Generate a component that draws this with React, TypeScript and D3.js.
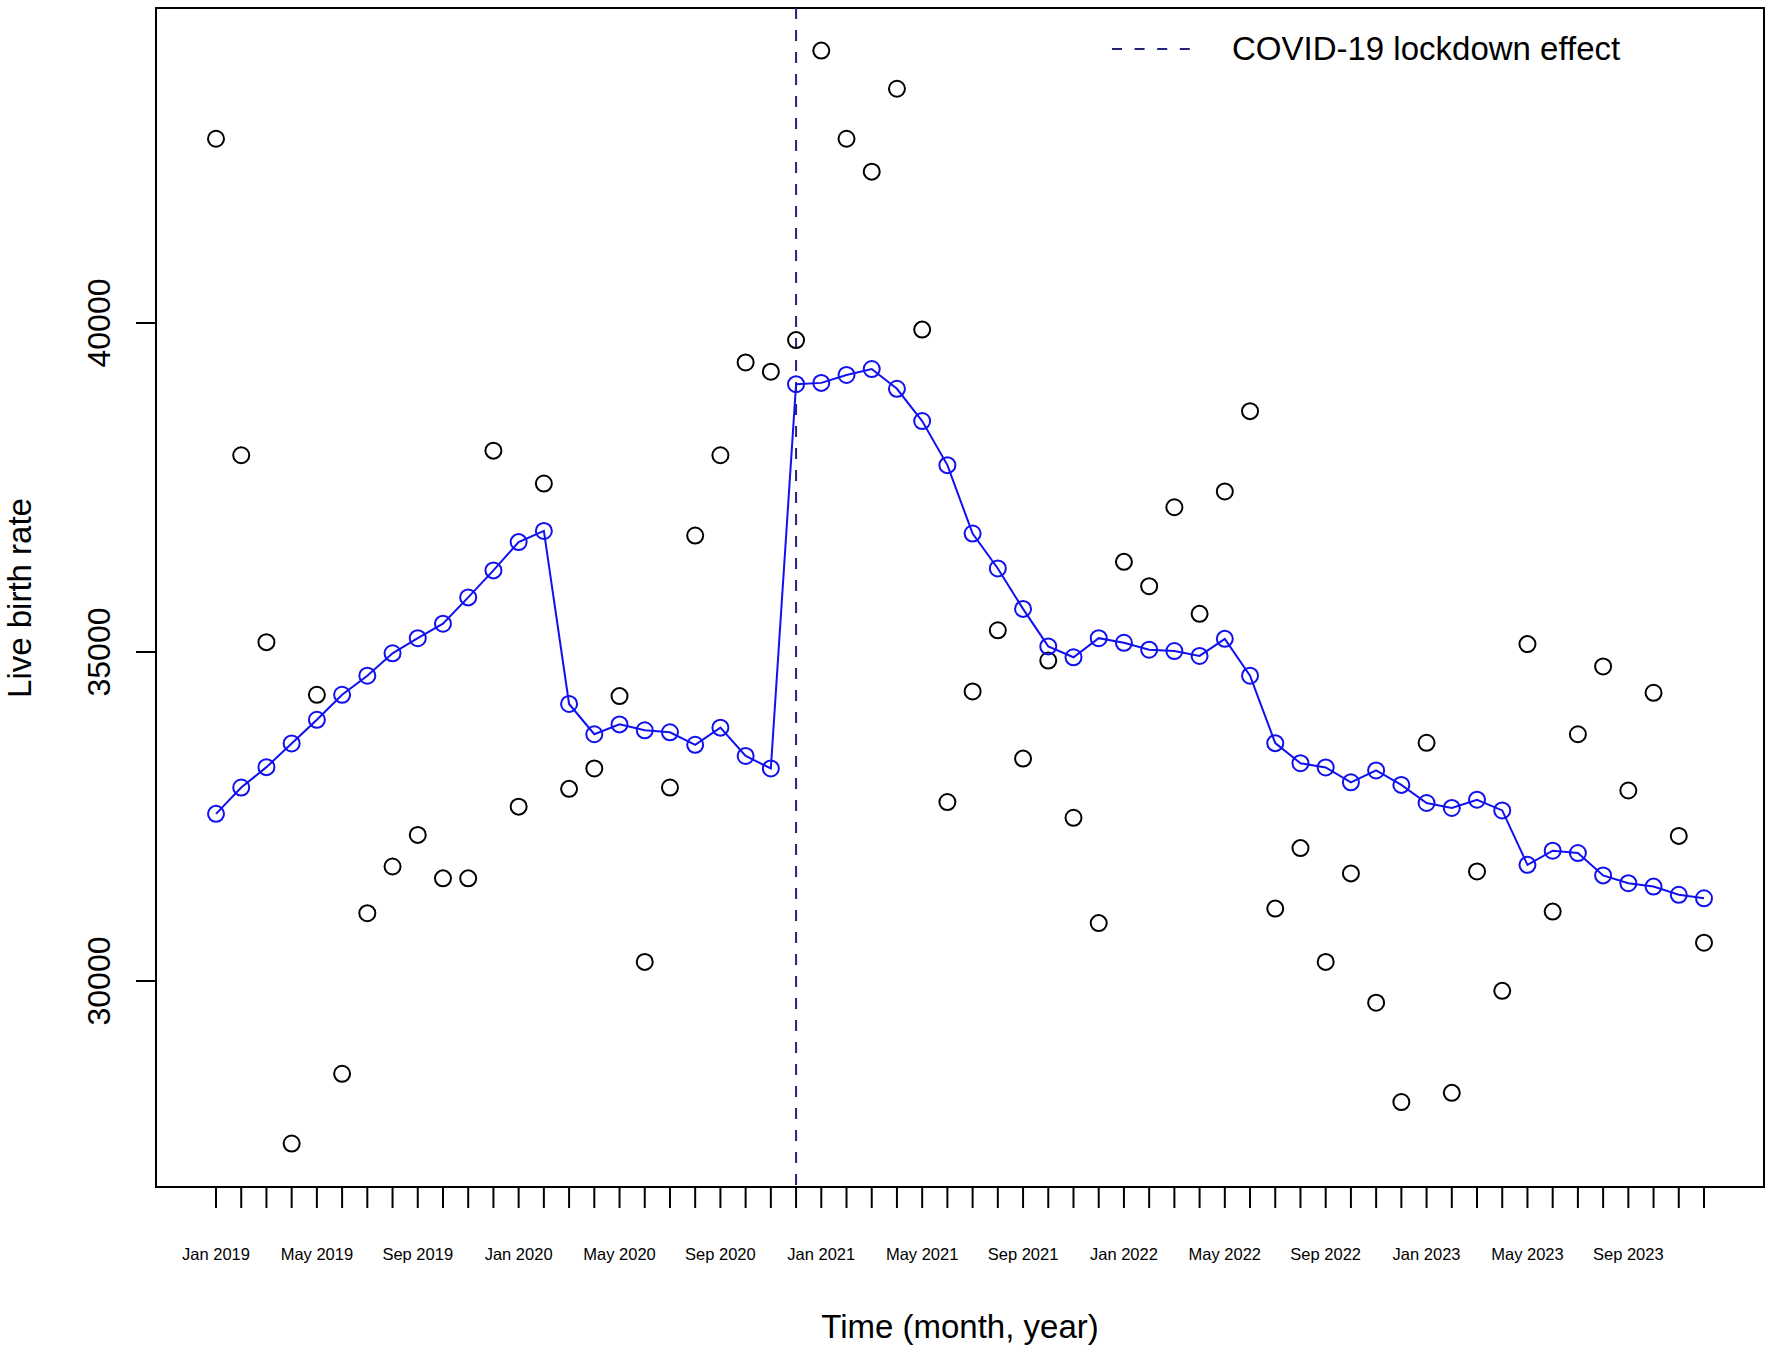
import React from 'react';
import * as d3 from 'd3';

// monthly live births, Jan 2019 .. Dec 2023
const observed: number[] = [
  42800, 37990, 35150, 27530, 34350, 28590, 31030, 31740, 32220, 31560, 31560, 38060,
  32650, 37560, 32920, 33230, 34330, 30290, 32940, 36770, 37990, 39400, 39260, 39740,
  44140, 42800, 42300, 43560, 39900, 32720, 34400, 35330, 33380, 34870, 32480, 30880,
  36370, 36000, 37200, 35580, 37440, 38660, 31100, 32020, 30290, 31635, 29670, 28160,
  33620, 28300, 31665, 29850, 35120, 31055, 33750, 34780, 32895, 34380, 32205, 30582,
];

const fitted: number[] = [
  32540, 32940, 33250, 33610, 33970, 34350, 34640, 34980, 35210, 35430, 35830, 36240,
  36670, 36840, 34210, 33750, 33900, 33810, 33780, 33590, 33850, 33420, 33230, 39070,
  39090, 39210, 39300, 39000, 38510, 37840, 36800, 36270, 35655, 35085, 34920, 35210,
  35140, 35035, 35015, 34940, 35200, 34640, 33615, 33310, 33245, 33020, 33200, 32980,
  32705, 32630, 32755, 32592, 31765, 31980, 31945, 31605, 31486, 31435, 31310, 31257,
];

const tickLabels: string[] = [
  'Jan 2019', 'May 2019', 'Sep 2019', 'Jan 2020', 'May 2020', 'Sep 2020', 'Jan 2021',
  'May 2021', 'Sep 2021', 'Jan 2022', 'May 2022', 'Sep 2022', 'Jan 2023', 'May 2023', 'Sep 2023',
];

const yTicks: number[] = [30000, 35000, 40000];
const lockdownMonth = 'Dec 2020';

const fmt = d3.timeFormat('%b %Y');
const months: string[] = d3.timeMonth.range(new Date(2019, 0, 1), new Date(2024, 0, 1)).map(fmt);

const W = 1772;
const H = 1352;
const box = { left: 156, right: 1764, top: 8, bottom: 1187 };
const font = '"Liberation Sans", Arial, Helvetica, sans-serif';
const navy = '#23237e';
const blue = '#1010f0';

const App: React.FC = () => {
  const x = d3.scalePoint<string>().domain(months).range([216, 1704]);
  const y = d3.scaleLinear().domain([30000, 40000]).range([981, 323]);

  const line = d3
    .line<number>()
    .x((_, i) => x(months[i]) ?? 0)
    .y((d) => y(d));

  const xl = x(lockdownMonth) ?? 0;

  return (
    <svg width={W} height={H} style={{ display: 'block', position: 'absolute', left: 0, top: 0 }}>
      <rect x={0} y={0} width={W} height={H} fill="#fff" />
      <rect
        x={box.left}
        y={box.top}
        width={box.right - box.left}
        height={box.bottom - box.top}
        fill="none"
        stroke="#000"
        strokeWidth={2}
      />

      {/* x ticks, one per month, labels every 4 months */}
      {months.map((m) => (
        <line key={m} x1={x(m)} x2={x(m)} y1={box.bottom} y2={box.bottom + 21} stroke="#000" strokeWidth={2} />
      ))}
      {tickLabels.map((t) => (
        <text key={t} x={x(t)} y={1260} textAnchor="middle" fontFamily={font} fontSize={16.5} fill="#000">
          {t}
        </text>
      ))}

      {/* y ticks */}
      {yTicks.map((t) => (
        <g key={t}>
          <line x1={box.left - 20} x2={box.left} y1={y(t)} y2={y(t)} stroke="#000" strokeWidth={2} />
          <text
            transform={`translate(110,${y(t)}) rotate(-90)`}
            textAnchor="middle"
            fontFamily={font}
            fontSize={32}
            fill="#000"
          >
            {t}
          </text>
        </g>
      ))}

      <text x={960} y={1338} textAnchor="middle" fontFamily={font} fontSize={33} fill="#000">
        Time (month, year)
      </text>
      <text
        transform={`translate(31,598) rotate(-90)`}
        textAnchor="middle"
        fontFamily={font}
        fontSize={33}
        fill="#000"
      >
        Live birth rate
      </text>

      {/* lockdown line */}
      <line x1={xl} x2={xl} y1={box.top} y2={box.bottom} stroke={navy} strokeWidth={2} strokeDasharray="11,11" />

      {/* observed */}
      {observed.map((v, i) => (
        <circle key={i} cx={x(months[i])} cy={y(v)} r={8} fill="none" stroke="#000" strokeWidth={2} />
      ))}

      {/* fitted */}
      <path d={line(fitted) ?? ''} fill="none" stroke={blue} strokeWidth={2} />
      {fitted.map((v, i) => (
        <circle key={i} cx={x(months[i])} cy={y(v)} r={8} fill="none" stroke={blue} strokeWidth={2} />
      ))}

      {/* legend */}
      <line x1={1112} x2={1191} y1={49} y2={49} stroke={navy} strokeWidth={2} strokeDasharray="10,12.6" />
      <text x={1232} y={60} fontFamily={font} fontSize={33} fill="#000">
        COVID-19 lockdown effect
      </text>
    </svg>
  );
};

export default App;
